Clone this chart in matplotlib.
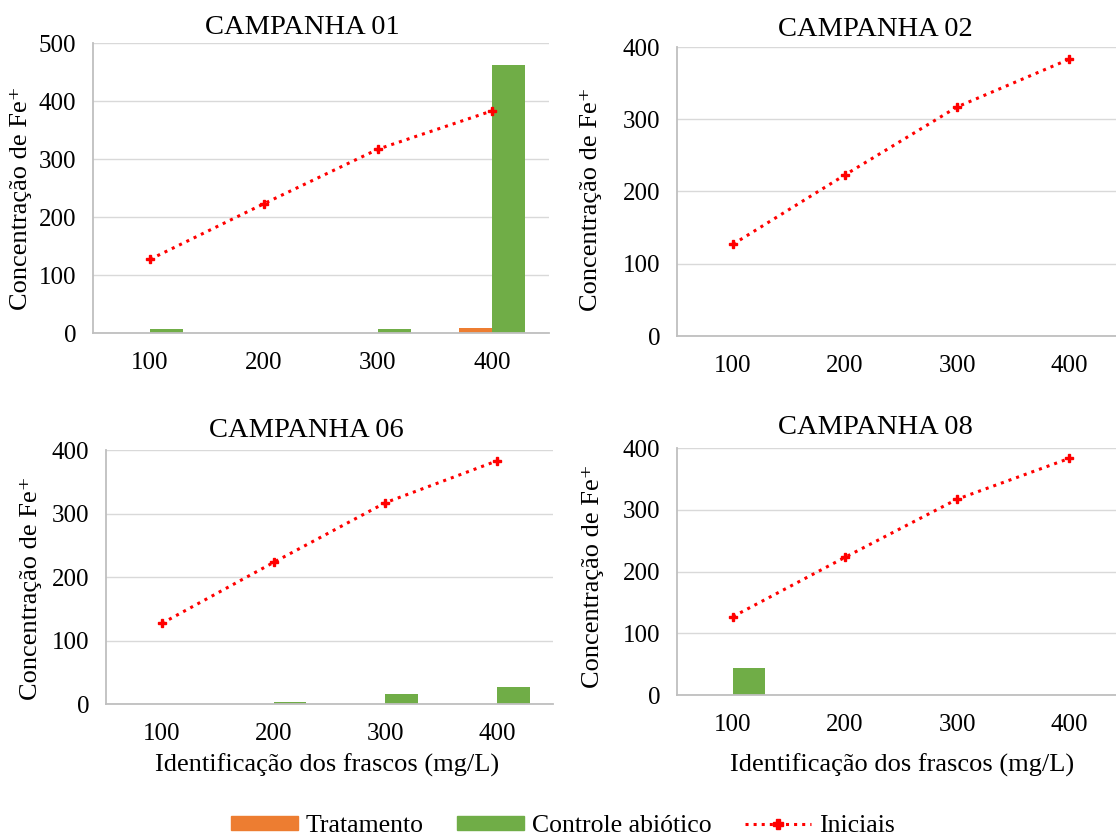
import matplotlib.pyplot as plt
import numpy as np
from matplotlib.patches import Patch
from matplotlib.lines import Line2D

plt.rcParams['font.family'] = ['Liberation Serif', 'DejaVu Serif']

# data
categories = ['100', '200', '300', '400']
iniciais = [127, 223, 317, 383]
camp_titles = ['CAMPANHA 01', 'CAMPANHA 02', 'CAMPANHA 06', 'CAMPANHA 08']
tratamento = {
    'CAMPANHA 01': [0, 0, 0, 8],
    'CAMPANHA 02': [0, 0, 0, 0],
    'CAMPANHA 06': [0, 0, 0, 0],
    'CAMPANHA 08': [0, 0, 0, 0],
}
controle = {
    'CAMPANHA 01': [7, 0, 7, 462],
    'CAMPANHA 02': [0, -2, 0, -2],
    'CAMPANHA 06': [0, 3, 15, 26],
    'CAMPANHA 08': [43, 0, 0, 0],
}
ymax = {'CAMPANHA 01': 500, 'CAMPANHA 02': 400, 'CAMPANHA 06': 400, 'CAMPANHA 08': 400}

ORANGE = '#ED7D31'
GREEN = '#70AD47'
RED = '#FF0000'
GRIDC = '#D9D9D9'
SPINEC = '#BFBFBF'

W, H = 1116, 838
fig = plt.figure(figsize=(W / 100, H / 100), dpi=100)

# panel boxes in pixels: left, zero-line y, width, top y
boxes = {
    'CAMPANHA 01': (93, 333, 456, 43),
    'CAMPANHA 02': (677, 336, 448, 47),
    'CAMPANHA 06': (106, 704, 447, 450),
    'CAMPANHA 08': (677, 695, 448, 448),
}
title_pos = {
    'CAMPANHA 01': (302, 28),
    'CAMPANHA 02': (875, 30),
    'CAMPANHA 06': (306, 430),
    'CAMPANHA 08': (875, 428),
}
ylab_pos = {
    'CAMPANHA 01': (21, 198),
    'CAMPANHA 02': (591, 199),
    'CAMPANHA 06': (31, 588),
    'CAMPANHA 08': (593, 576),
}

x = np.arange(len(categories))
bw = 0.29

for name in camp_titles:
    l, b, w, t = boxes[name]
    ax = fig.add_axes([l / W, (H - b) / H, w / W, (b - t) / H])
    ax.bar(x - bw / 2, tratamento[name], bw, color=ORANGE, zorder=2)
    ax.bar(x + bw / 2, controle[name], bw, color=GREEN, zorder=2)
    ax.plot(x, iniciais, color=RED, linestyle=':', linewidth=2.2,
            marker='P', markersize=6, zorder=3)
    ax.set_xlim(-0.5, 3.5)
    ax.set_ylim(0, ymax[name])
    ax.set_yticks(np.arange(0, ymax[name] + 1, 100))
    ax.set_xticks(x)
    ax.set_xticklabels(categories)
    ax.yaxis.grid(True, color=GRIDC, linewidth=1, zorder=0)
    ax.set_axisbelow(True)
    for s in ['top', 'right']:
        ax.spines[s].set_visible(False)
    for s in ['left', 'bottom']:
        ax.spines[s].set_color(SPINEC)
        ax.spines[s].set_linewidth(1.3)
    ax.tick_params(axis='both', length=0, labelsize=18)
    ax.tick_params(axis='x', pad=14)
    ax.tick_params(axis='y', pad=12)

    tx, ty = title_pos[name]
    fig.text(tx / W, 1 - ty / H, name, ha='center', va='center', fontsize=20.5)
    yx, yy = ylab_pos[name]
    fig.text(yx / W, 1 - yy / H, 'Concentração de Fe⁺', rotation=90,
             ha='center', va='center', fontsize=19)

fig.text(327 / W, 1 - 765 / H, 'Identificação dos frascos (mg/L)',
         ha='center', va='center', fontsize=19)
fig.text(902 / W, 1 - 765 / H, 'Identificação dos frascos (mg/L)',
         ha='center', va='center', fontsize=19)

handles = [
    Patch(color=ORANGE, label='Tratamento'),
    Patch(color=GREEN, label='Controle abiótico'),
    Line2D([], [], color=RED, linestyle=':', linewidth=2.2, marker='P',
           markersize=7, label='Iniciais'),
]
fig.legend(handles=handles, loc='center', bbox_to_anchor=(563 / W, 1 - 826 / H),
           ncol=3, frameon=False, fontsize=18.5, handlelength=2.6,
           handleheight=0.5, columnspacing=1.3, handletextpad=0.3)

fig.savefig('out.png', dpi=100)
